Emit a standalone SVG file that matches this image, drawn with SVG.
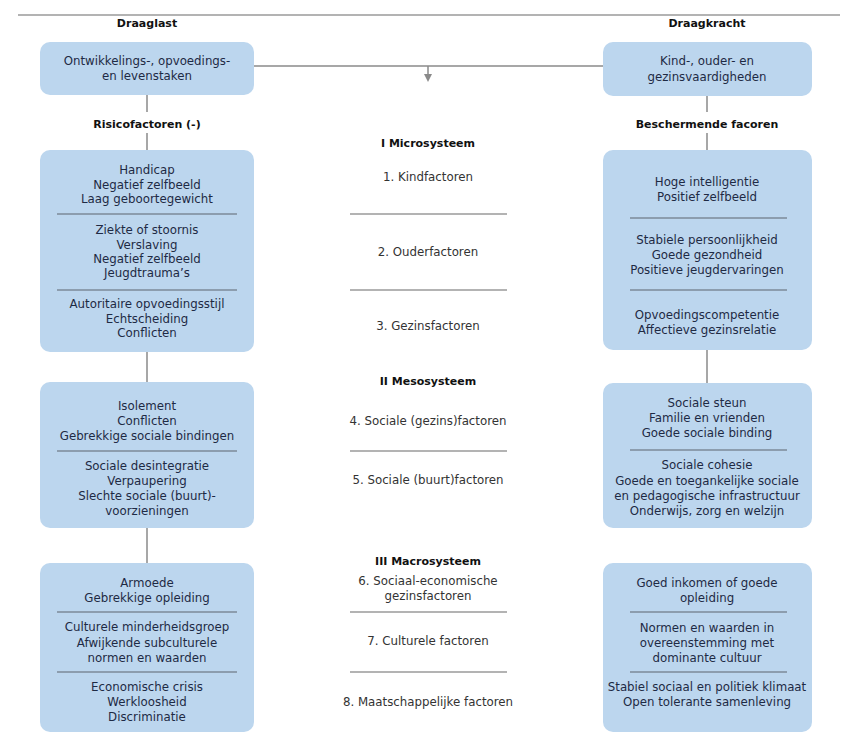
<svg xmlns="http://www.w3.org/2000/svg" width="847" height="752" viewBox="0 0 847 752">
<defs>
<style>
.box{fill:#bcd6ee;}
.t{font-family:"DejaVu Sans","Liberation Sans",sans-serif;font-size:11.8px;fill:#1e2a44;text-anchor:middle;}
.m{font-family:"DejaVu Sans","Liberation Sans",sans-serif;font-size:11.8px;fill:#333;text-anchor:middle;}
.h{font-family:"DejaVu Sans","Liberation Sans",sans-serif;font-size:11px;font-weight:bold;fill:#111;text-anchor:middle;}
.dv{stroke:#7d8a99;stroke-width:1.5;}
.md{stroke:#9a9a9a;stroke-width:1.5;}
.c{stroke:#8a8a8a;stroke-width:1.5;fill:none;}
</style>
<marker id="ah" markerWidth="8" markerHeight="8" refX="4" refY="4" orient="auto" markerUnits="userSpaceOnUse">
<path d="M0,0 L8,4 L0,8 z" fill="#8a8a8a"/>
</marker>
</defs>
<rect width="847" height="752" fill="#fff"/>
<line x1="18" y1="15" x2="840" y2="15" stroke="#9a9a9a" stroke-width="1.5"/>
<text class="h" x="147" y="27">Draaglast</text>
<text class="h" x="707" y="27">Draagkracht</text>

<g id="connectors">
<line class="c" x1="254" y1="66" x2="603" y2="66"/>
<line class="c" x1="428" y1="66" x2="428" y2="78" marker-end="url(#ah)"/>
<line class="c" x1="147" y1="95" x2="147" y2="112"/>
<line class="c" x1="147" y1="133" x2="147" y2="150"/>
<line class="c" x1="147" y1="352" x2="147" y2="382"/>
<line class="c" x1="147" y1="528" x2="147" y2="563"/>
<line class="c" x1="707" y1="96" x2="707" y2="112"/>
<line class="c" x1="707" y1="133" x2="707" y2="150"/>
<line class="c" x1="707" y1="350" x2="707" y2="383"/>
</g>

<g id="left-top">
<rect class="box" x="40" y="42" width="214" height="53" rx="10"/>
<text class="t" x="147" y="65">Ontwikkelings-, opvoedings-</text>
<text class="t" x="147" y="80">en levenstaken</text>
</g>
<g id="right-top">
<rect class="box" x="603" y="42" width="209" height="54" rx="10"/>
<text class="t" x="707" y="65">Kind-, ouder- en</text>
<text class="t" x="707" y="81">gezinsvaardigheden</text>
</g>

<text class="h" x="147" y="128">Risicofactoren (-)</text>
<text class="h" x="707" y="128">Beschermende facoren</text>

<g id="left-micro">
<rect class="box" x="40" y="150" width="214" height="202" rx="10"/>
<text class="t" x="147" y="174">Handicap</text>
<text class="t" x="147" y="189">Negatief zelfbeeld</text>
<text class="t" x="147" y="203">Laag geboortegewicht</text>
<line class="dv" x1="57" y1="214" x2="237" y2="214"/>
<text class="t" x="147" y="234">Ziekte of stoornis</text>
<text class="t" x="147" y="249">Verslaving</text>
<text class="t" x="147" y="263">Negatief zelfbeeld</text>
<text class="t" x="147" y="277">Jeugdtrauma’s</text>
<line class="dv" x1="57" y1="290" x2="237" y2="290"/>
<text class="t" x="147" y="308">Autoritaire opvoedingsstijl</text>
<text class="t" x="147" y="323">Echtscheiding</text>
<text class="t" x="147" y="337">Conflicten</text>
</g>

<g id="left-meso">
<rect class="box" x="40" y="382" width="214" height="146" rx="10"/>
<text class="t" x="147" y="410">Isolement</text>
<text class="t" x="147" y="425">Conflicten</text>
<text class="t" x="147" y="440">Gebrekkige sociale bindingen</text>
<line class="dv" x1="57" y1="451" x2="237" y2="451"/>
<text class="t" x="147" y="470">Sociale desintegratie</text>
<text class="t" x="147" y="485">Verpaupering</text>
<text class="t" x="147" y="500">Slechte sociale (buurt)-</text>
<text class="t" x="147" y="515">voorzieningen</text>
</g>

<g id="left-macro">
<rect class="box" x="40" y="563" width="214" height="169" rx="10"/>
<text class="t" x="147" y="587">Armoede</text>
<text class="t" x="147" y="602">Gebrekkige opleiding</text>
<line class="dv" x1="57" y1="612" x2="237" y2="612"/>
<text class="t" x="147" y="631">Culturele minderheidsgroep</text>
<text class="t" x="147" y="647">Afwijkende subculturele</text>
<text class="t" x="147" y="662">normen en waarden</text>
<line class="dv" x1="57" y1="672" x2="237" y2="672"/>
<text class="t" x="147" y="691">Economische crisis</text>
<text class="t" x="147" y="706">Werkloosheid</text>
<text class="t" x="147" y="721">Discriminatie</text>
</g>

<g id="middle">
<text class="h" x="428" y="147">I Microsysteem</text>
<text class="m" x="428" y="181">1. Kindfactoren</text>
<line class="md" x1="350" y1="214" x2="507" y2="214"/>
<text class="m" x="428" y="256">2. Ouderfactoren</text>
<line class="md" x1="350" y1="290" x2="507" y2="290"/>
<text class="m" x="428" y="330">3. Gezinsfactoren</text>
<text class="h" x="428" y="385">II Mesosysteem</text>
<text class="m" x="428" y="425">4. Sociale (gezins)factoren</text>
<line class="md" x1="350" y1="451" x2="507" y2="451"/>
<text class="m" x="428" y="484">5. Sociale (buurt)factoren</text>
<text class="h" x="428" y="565">III Macrosysteem</text>
<text class="m" x="428" y="585">6. Sociaal-economische</text>
<text class="m" x="428" y="600">gezinsfactoren</text>
<line class="md" x1="350" y1="612" x2="507" y2="612"/>
<text class="m" x="428" y="645">7. Culturele factoren</text>
<line class="md" x1="350" y1="672" x2="507" y2="672"/>
<text class="m" x="428" y="706">8. Maatschappelijke factoren</text>
</g>

<g id="right-micro">
<rect class="box" x="603" y="150" width="209" height="200" rx="10"/>
<text class="t" x="707" y="186">Hoge intelligentie</text>
<text class="t" x="707" y="201">Positief zelfbeeld</text>
<line class="dv" x1="630" y1="218" x2="787" y2="218"/>
<text class="t" x="707" y="244">Stabiele persoonlijkheid</text>
<text class="t" x="707" y="259">Goede gezondheid</text>
<text class="t" x="707" y="274">Positieve jeugdervaringen</text>
<line class="dv" x1="630" y1="290" x2="787" y2="290"/>
<text class="t" x="707" y="319">Opvoedingscompetentie</text>
<text class="t" x="707" y="334">Affectieve gezinsrelatie</text>
</g>

<g id="right-meso">
<rect class="box" x="603" y="383" width="209" height="145" rx="10"/>
<text class="t" x="707" y="407">Sociale steun</text>
<text class="t" x="707" y="422">Familie en vrienden</text>
<text class="t" x="707" y="437">Goede sociale binding</text>
<line class="dv" x1="630" y1="450" x2="787" y2="450"/>
<text class="t" x="707" y="469">Sociale cohesie</text>
<text class="t" x="707" y="485">Goede en toegankelijke sociale</text>
<text class="t" x="707" y="500">en pedagogische infrastructuur</text>
<text class="t" x="707" y="515">Onderwijs, zorg en welzijn</text>
</g>

<g id="right-macro">
<rect class="box" x="603" y="563" width="209" height="169" rx="10"/>
<text class="t" x="707" y="587">Goed inkomen of goede</text>
<text class="t" x="707" y="602">opleiding</text>
<line class="dv" x1="630" y1="612" x2="787" y2="612"/>
<text class="t" x="707" y="632">Normen en waarden in</text>
<text class="t" x="707" y="647">overeenstemming met</text>
<text class="t" x="707" y="662">dominante cultuur</text>
<line class="dv" x1="630" y1="672" x2="787" y2="672"/>
<text class="t" x="707" y="691">Stabiel sociaal en politiek klimaat</text>
<text class="t" x="707" y="706">Open tolerante samenleving</text>
</g>
</svg>
